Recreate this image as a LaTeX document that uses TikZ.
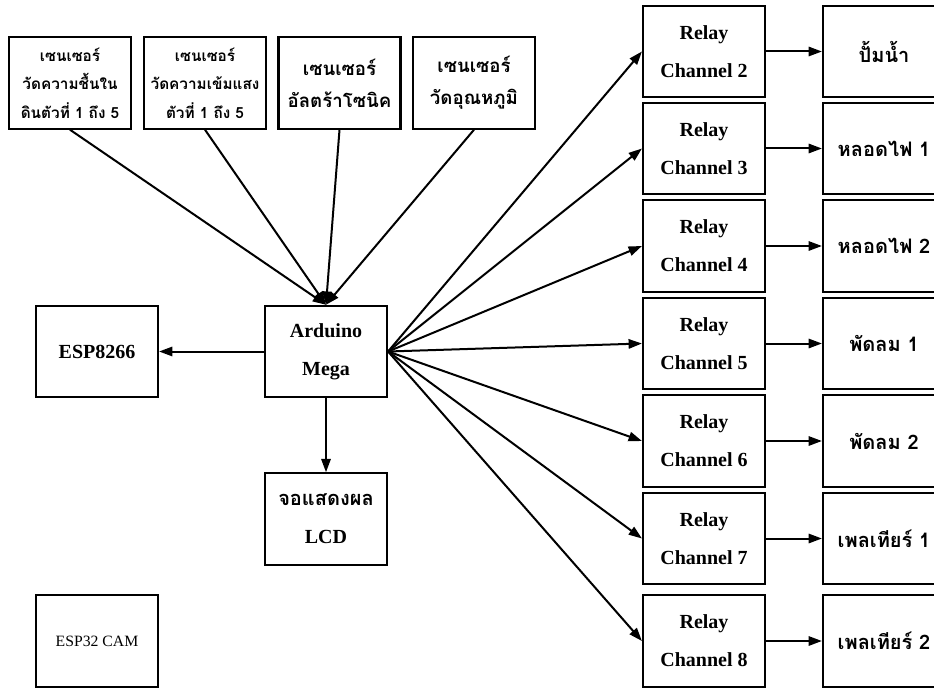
\documentclass[tikz,border=0pt]{standalone}
\usepackage{fontspec}
\setmainfont{Liberation Serif}
\newfontfamily\thaifont[Script=Thai]{Loma}
\usetikzlibrary{arrows.meta}
\begin{document}
\begin{tikzpicture}[x=0.75pt,y=-0.75pt,
  box/.style={draw,line width=1.6pt,minimum width=91.5pt,minimum height=68.5pt,inner sep=0pt,align=center,
    font=\bfseries\fontsize{15pt}{28.5pt}\selectfont},
  thsmall/.style={font=\thaifont\bfseries\fontsize{11.5pt}{21.5pt}\selectfont},
  thbig/.style={font=\thaifont\bfseries\fontsize{14pt}{24pt}\selectfont},
  thout/.style={font=\thaifont\bfseries\fontsize{15pt}{24pt}\selectfont},
  conn/.style={line width=1.5pt,-{Triangle[length=10pt,width=7pt]}}]
\clip (0,0) rectangle (934,688);
\fill[white] (0,0) rectangle (934,688);
% sensors
\node[box,thsmall] (s1) at (70,83) {เซนเซอร์\\วัดความชื้นใน\\ดินตัวที่ 1 ถึง 5};
\node[box,thsmall] (s2) at (205,83) {เซนเซอร์\\วัดความเข้มแสง\\ตัวที่ 1 ถึง 5};
\node[box,thbig] (s3) at (339.5,83) {เซนเซอร์\\อัลตร้าโซนิค};
\node[box,thbig] (s4) at (474,83) {เซนเซอร์\\วัดอุณหภูมิ};
% core
\node[box] (ard) at (326,351.5) {Arduino\\Mega};
\node[box] (esp) at (97,351.5) {ESP8266};
\node[box] (lcd) at (326,519) {{\thaifont\fontsize{15pt}{18pt}\selectfont จอแสดงผล}\\LCD};
\node[box,font=\fontsize{11.8pt}{13pt}\selectfont] (cam) at (97,641) {ESP32 CAM};
% relays and outputs
\foreach \n/\y/\t in {2/51.5/ปั้มน้ำ,3/148.5/หลอดไฟ 1,4/246/หลอดไฟ 2,5/343.5/พัดลม 1,6/441/พัดลม 2,7/538.5/เพลเทียร์ 1,8/641/เพลเทียร์ 2}{
  \node[box] (r\n) at (704,\y) {Relay\\Channel \n};
  \node[box,thout] (o\n) at (884,\y) {\t};
  \draw[conn] (r\n.east) -- (o\n.west);
  \draw[conn] (ard.east) -- (r\n.west);
}
\foreach \s in {s1,s2,s3,s4}{\draw[conn] (\s.south) -- (ard.north);}
\draw[conn] (ard.west) -- (esp.east);
\draw[conn] (ard.south) -- (lcd.north);
\end{tikzpicture}
\end{document}
